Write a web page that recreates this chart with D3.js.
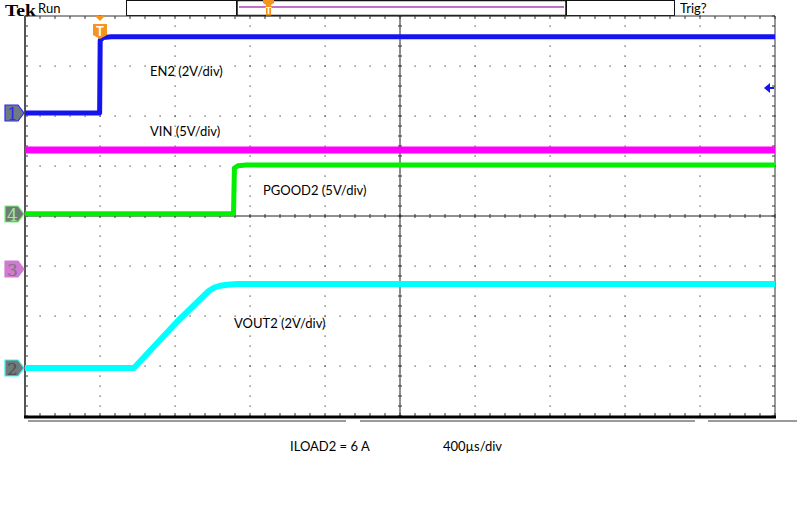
<!DOCTYPE html>
<html><head><meta charset="utf-8">
<script src="https://cdn.jsdelivr.net/npm/d3@7"></script>
<style>body{margin:0;background:#fff}svg{display:block}</style>
</head><body>
<svg id="c" width="812" height="507"></svg>
<script>
// ---- data (time in µs, trigger at 0; values in volts) ----
const timeDomain = [-400, 3600];          // 10 div × 400 µs
const divRange = [-4, 4];                 // 8 vertical divisions
const en2T   = [-400, -2, 1, 15, 60, 3600];
const en2V   = [0, 0, 2.9, 3.02, 3.05, 3.05];
const vinT   = [-400, 3600];
const vinV   = [11.9, 11.9];
const pg2T   = [-400, 712, 717, 735, 780, 3600];
const pg2V   = [0.02, 0.02, 4.6, 4.82, 4.9, 4.9];
const vout2T = [-400, 181, 411, 580, 610, 640, 680, 730, 3600];
const vout2V = [0, 0, 1.85, 3.08, 3.22, 3.29, 3.33, 3.36, 3.36];
const channels = [
  {name:"EN2",    label:"EN2 (2V/div)",    num:"1", vdiv:2, offset:2.06,  t:en2T,   v:en2V,   color:"#1414f0", w:5},
  {name:"VIN",    label:"VIN (5V/div)",    num:"3", vdiv:5, offset:-1.06, t:vinT,   v:vinV,   color:"#ff00ff", w:7},
  {name:"PGOOD2", label:"PGOOD2 (5V/div)", num:"4", vdiv:5, offset:0.04,  t:pg2T,   v:pg2V,   color:"#00f000", w:5},
  {name:"VOUT2",  label:"VOUT2 (2V/div)",  num:"2", vdiv:2, offset:-3.04, t:vout2T, v:vout2V, color:"#00ffff", w:6}
];
const footerText = ["ILOAD2 = 6 A", "400µs/div"];

// ---- layout ----
const svg = d3.select("#c");
const L = 25, R = 775, T = 16, B = 416;
const x = d3.scaleLinear().domain(timeDomain).range([L, R]);
const y = d3.scaleLinear().domain(divRange).range([B, T]);
const font = "Lato, 'Open Sans', sans-serif";

// ---- top status bar ----
svg.append("text").attr("x", 5).attr("y", 16).attr("font-family", "'Liberation Serif', serif")
  .attr("font-weight", "bold").attr("font-size", 17).attr("textLength", 31).attr("lengthAdjust", "spacingAndGlyphs").text("Tek");
svg.append("text").attr("x", 38).attr("y", 13).attr("font-family", font).attr("font-size", 13).text("Run");
svg.append("rect").attr("x", 126.5).attr("y", 0.5).attr("width", 110).attr("height", 15).attr("fill", "#fff").attr("stroke", "#111");
svg.append("rect").attr("x", 566.5).attr("y", 0.5).attr("width", 108).attr("height", 15).attr("fill", "#fff").attr("stroke", "#111");
svg.append("rect").attr("x", 237).attr("y", 0.5).attr("width", 329).attr("height", 15).attr("fill", "#fff").attr("stroke", "#111").attr("stroke-width", 1.5);
svg.append("line").attr("x1", 239).attr("x2", 564).attr("y1", 7).attr("y2", 7).attr("stroke", "#b040b0").attr("stroke-width", 1.5);
svg.append("path").attr("d", "M263,0 H274 V3 L271,5 V16 H266 V5 L263,3 Z").attr("fill", "#f7941d");
svg.append("text").attr("x", 268.5).attr("y", 14).attr("text-anchor", "middle").attr("font-family", font)
  .attr("font-weight", "bold").attr("font-size", 10).attr("fill", "#fff").text("T");
svg.append("text").attr("x", 680).attr("y", 13).attr("font-family", font).attr("font-size", 13).text("Trig?");

// ---- graticule ----
const g = svg.append("g");
const xMaj = d3.range(timeDomain[0], timeDomain[1] + 1, 400);
const yMaj = d3.range(divRange[0], divRange[1] + 0.001, 1);
const xSub = d3.range(timeDomain[0], timeDomain[1] + 1, 80);
const ySub = d3.range(divRange[0], divRange[1] + 0.001, 0.2);
xMaj.forEach(t => {
  if (t === timeDomain[0] || t === timeDomain[1] || t === 1600) return;
  ySub.forEach(d => g.append("rect").attr("x", x(t) - 0.5).attr("y", y(d) - 0.5).attr("width", 1.2).attr("height", 1.2).attr("fill", "#444"));
});
yMaj.forEach(d => {
  if (d === divRange[0] || d === divRange[1] || d === 0) return;
  xSub.forEach(t => g.append("rect").attr("x", x(t) - 0.5).attr("y", y(d) - 0.5).attr("width", 1.2).attr("height", 1.2).attr("fill", "#444"));
});
g.append("line").attr("x1", L).attr("x2", R).attr("y1", y(0)).attr("y2", y(0)).attr("stroke", "#222").attr("stroke-width", 1);
g.append("line").attr("x1", x(1600)).attr("x2", x(1600)).attr("y1", T).attr("y2", B).attr("stroke", "#222").attr("stroke-width", 1);
xSub.forEach(t => g.append("line").attr("x1", x(t)).attr("x2", x(t)).attr("y1", y(0) - 2).attr("y2", y(0) + 2).attr("stroke", "#333"));
ySub.forEach(d => g.append("line").attr("x1", x(1600) - 2).attr("x2", x(1600) + 2).attr("y1", y(d)).attr("y2", y(d)).attr("stroke", "#333"));
xSub.forEach(t => {
  g.append("line").attr("x1", x(t)).attr("x2", x(t)).attr("y1", T).attr("y2", T + 3).attr("stroke", "#333");
  g.append("line").attr("x1", x(t)).attr("x2", x(t)).attr("y1", B).attr("y2", B - 3).attr("stroke", "#333");
});
ySub.forEach(d => {
  g.append("line").attr("x1", L).attr("x2", L + 3).attr("y1", y(d)).attr("y2", y(d)).attr("stroke", "#333");
  g.append("line").attr("x1", R).attr("x2", R - 3).attr("y1", y(d)).attr("y2", y(d)).attr("stroke", "#333");
});
g.append("line").attr("x1", L).attr("x2", R).attr("y1", T).attr("y2", T).attr("stroke", "#333");
g.append("line").attr("x1", R).attr("x2", R).attr("y1", T).attr("y2", B).attr("stroke", "#333");
g.append("line").attr("x1", L).attr("x2", L).attr("y1", T).attr("y2", B).attr("stroke", "#555").attr("stroke-width", 2);
g.append("line").attr("x1", L - 1).attr("x2", R + 1).attr("y1", B + 1).attr("y2", B + 1).attr("stroke", "#000").attr("stroke-width", 3);
[[28, 346], [360, 695], [708, 797]].forEach(s =>
  svg.append("line").attr("x1", s[0]).attr("x2", s[1]).attr("y1", 421).attr("y2", 421).attr("stroke", "#9a9a9a").attr("stroke-width", 2));

// ---- traces ----
channels.forEach(ch => {
  const pts = ch.t.map((t, i) => [t, ch.v[i]]);
  const line = d3.line().x(p => x(p[0])).y(p => y(ch.offset + p[1] / ch.vdiv));
  svg.append("path").datum(pts).attr("d", line).attr("fill", "none")
    .attr("stroke", ch.color).attr("stroke-width", ch.w).attr("stroke-linejoin", "round");
});

// ---- channel markers ----
const mk = {
  "1": {fill:"#6f7a82", stroke:"#2a2af0", text:"#2a2af0"},
  "4": {fill:"#6f7a72", stroke:"#7af07a", text:"#9ae89a"},
  "3": {fill:"#d27ad2", stroke:"#d27ad2", text:"#777"},
  "2": {fill:"#6f7a7a", stroke:"#40f0f0", text:"#505050"}
};
channels.forEach(ch => {
  const cy = y(ch.offset), m = mk[ch.num];
  svg.append("path").attr("d", `M5,${cy - 8} H18 L24,${cy} L18,${cy + 8} H5 Z`)
    .attr("fill", m.fill).attr("stroke", m.stroke).attr("stroke-width", 1.2);
  svg.append("text").attr("x", 12.5).attr("y", cy + 6.5).attr("text-anchor", "middle")
    .attr("font-family", "'DejaVu Serif', serif").attr("font-size", 17).attr("fill", m.text).text(ch.num);
});
svg.append("path").attr("d", `M${x(0) - 5},${T} H${x(0) + 5} L${x(0)},${T + 5} Z`).attr("fill", "#f7941d");
svg.append("path").attr("d", `M${x(0) - 7},${T + 8} H${x(0) + 7} V${T + 19} L${x(0)},${T + 23} L${x(0) - 7},${T + 19} Z`).attr("fill", "#f7941d");
svg.append("text").attr("x", x(0)).attr("y", T + 20).attr("text-anchor", "middle").attr("font-family", font)
  .attr("font-weight", "bold").attr("font-size", 13).attr("fill", "#fff").text("T");
const trigY = 88;
svg.append("path").attr("d", `M764,${trigY} L770,${trigY - 5} V${trigY + 5} Z`).attr("fill", "#1414f0");
svg.append("line").attr("x1", 768).attr("x2", 774).attr("y1", trigY).attr("y2", trigY).attr("stroke", "#1414f0").attr("stroke-width", 2);

// ---- labels ----
const labelPos = {EN2:[150, 76], VIN:[150, 136], PGOOD2:[263, 195], VOUT2:[234, 328]};
channels.forEach(ch => {
  const p = labelPos[ch.name];
  svg.append("text").attr("x", p[0]).attr("y", p[1]).attr("font-family", font).attr("font-size", 13).attr("fill", "#000").text(ch.label);
});
svg.append("text").attr("x", 290).attr("y", 451).attr("font-family", font).attr("font-size", 13).text(footerText[0]);
svg.append("text").attr("x", 443).attr("y", 451).attr("font-family", font).attr("font-size", 13).text(footerText[1]);
</script>
</body></html>
